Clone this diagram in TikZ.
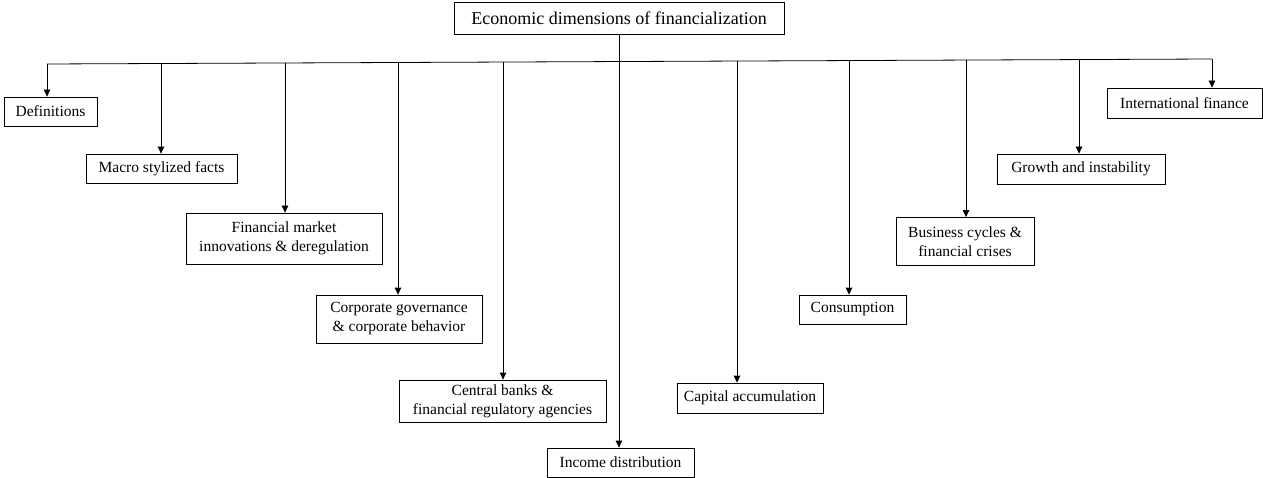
\documentclass[tikz,border=0pt]{standalone}
\usepackage{fontspec}
\setmainfont{Liberation Serif}
\usetikzlibrary{arrows.meta}
\begin{document}
\begin{tikzpicture}[x=1pt,y=-1pt,
  box/.style={draw=black,line width=0.8pt,inner sep=0pt,align=center,
    font=\fontsize{15.5}{19}\selectfont},
  titlebox/.style={box,font=\fontsize{18}{21}\selectfont},
  conn/.style={draw=black,line width=0.8pt},
  arr/.style={conn,-{Triangle[width=6.5pt,length=7pt]}}]
\useasboundingbox (0,0) rectangle (1263,478);
% nodes
\node[titlebox,minimum width=330pt,minimum height=32pt] (title) at (619,18) {Economic dimensions of financialization};
\node[box,minimum width=93pt,minimum height=29pt] (defs) at (50.5,111.5) {Definitions};
\node[box,minimum width=151pt,minimum height=29pt] (macro) at (161.5,168.5) {Macro stylized facts};
\node[box,minimum width=196pt,minimum height=51pt] (fin) at (284,238.5) {Financial market\\innovations \& deregulation};
\node[box,minimum width=166pt,minimum height=48pt] (corp) at (399,319) {Corporate governance\\\& corporate behavior};
\node[box,minimum width=207pt,minimum height=42pt] (cent) at (502.5,401) {Central banks \&\\financial regulatory agencies};
\node[box,minimum width=147pt,minimum height=29pt] (inc) at (620.5,462.5) {Income distribution};
\node[box,minimum width=146pt,minimum height=30pt] (cap) at (750,398) {Capital accumulation};
\node[box,minimum width=107pt,minimum height=29pt] (cons) at (852.5,309.5) {Consumption};
\node[box,minimum width=138pt,minimum height=48pt] (bus) at (965,241.5) {Business cycles \&\\financial crises};
\node[box,minimum width=168pt,minimum height=30pt] (grow) at (1081,169) {Growth and instability};
\node[box,minimum width=155pt,minimum height=30pt] (intl) at (1184.5,103) {International finance};
% branch points on the (slightly slanted) distribution line
\coordinate (L) at (47,64);
\coordinate (R) at (1212,59);
\coordinate (b2) at (161,63.51);
\coordinate (b3) at (285,62.98);
\coordinate (b4) at (398,62.49);
\coordinate (b5) at (503,62.04);
\coordinate (b6) at (619,61.55);
\coordinate (b7) at (737,61.04);
\coordinate (b8) at (849,60.56);
\coordinate (b9) at (966,60.06);
\coordinate (b10) at (1079,59.57);
% connectors
\draw[conn] (title.south) -- (b6);
\draw[conn] (L) -- (R);
\draw[arr] (L) -- (L |- defs.north);
\draw[arr] (b2) -- (b2 |- macro.north);
\draw[arr] (b3) -- (b3 |- fin.north);
\draw[arr] (b4) -- (b4 |- corp.north);
\draw[arr] (b5) -- (b5 |- cent.north);
\draw[arr] (b6) -- (b6 |- inc.north);
\draw[arr] (b7) -- (b7 |- cap.north);
\draw[arr] (b8) -- (b8 |- cons.north);
\draw[arr] (b9) -- (b9 |- bus.north);
\draw[arr] (b10) -- (b10 |- grow.north);
\draw[arr] (R) -- (R |- intl.north);
\end{tikzpicture}
\end{document}
